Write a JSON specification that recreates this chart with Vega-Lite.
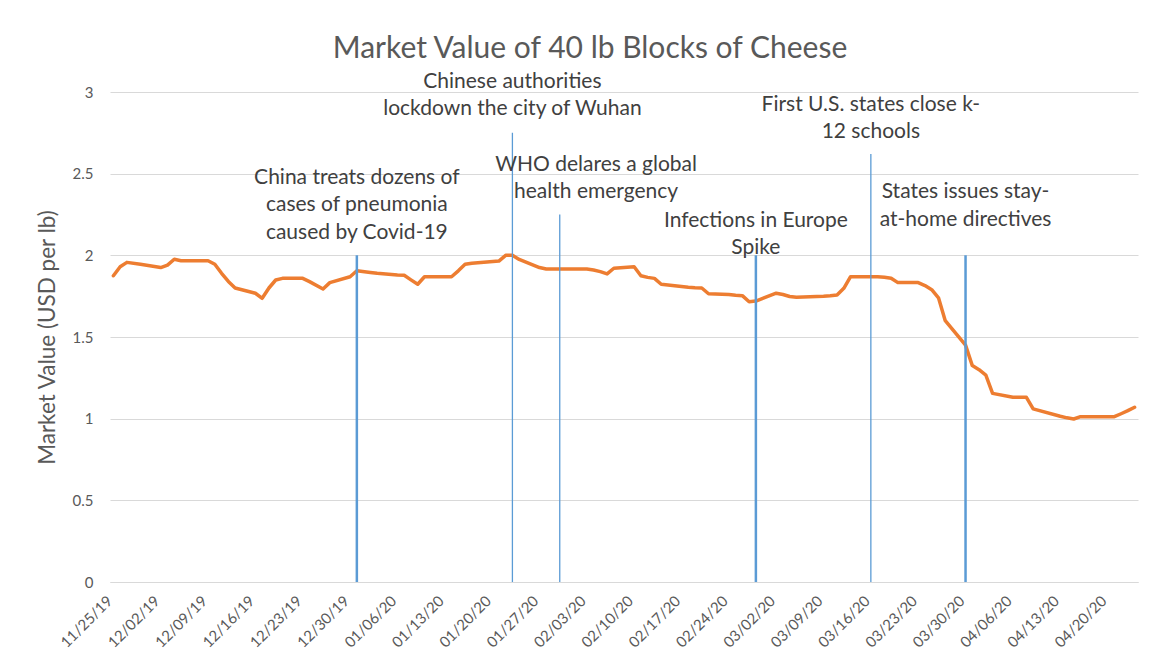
{
  "$schema": "https://vega.github.io/schema/vega-lite/v6.json",
  "width": 1028,
  "height": 490,
  "autosize": {"type": "none"},
  "padding": {"left": 110, "top": 92, "right": 26, "bottom": 89},
  "background": "white",
  "config": {"view": {"stroke": null}, "font": "Lato"},
  "title": {
    "text": "Market Value of 40 lb Blocks of Cheese",
    "font": "Lato",
    "fontSize": 30,
    "fontWeight": "normal",
    "color": "#595959",
    "anchor": "middle",
    "frame": "group",
    "dx": -34,
    "offset": 7
  },
  "layer": [
    {
      "data": {
        "values": [
          {"date": "2019-11-25", "price": 1.875},
          {"date": "2019-11-26", "price": 1.93},
          {"date": "2019-11-27", "price": 1.957},
          {"date": "2019-11-29", "price": 1.945},
          {"date": "2019-12-02", "price": 1.925},
          {"date": "2019-12-03", "price": 1.94},
          {"date": "2019-12-04", "price": 1.976},
          {"date": "2019-12-05", "price": 1.967},
          {"date": "2019-12-06", "price": 1.967},
          {"date": "2019-12-09", "price": 1.967},
          {"date": "2019-12-10", "price": 1.945},
          {"date": "2019-12-11", "price": 1.89},
          {"date": "2019-12-12", "price": 1.84},
          {"date": "2019-12-13", "price": 1.8},
          {"date": "2019-12-16", "price": 1.768},
          {"date": "2019-12-17", "price": 1.737},
          {"date": "2019-12-18", "price": 1.8},
          {"date": "2019-12-19", "price": 1.849},
          {"date": "2019-12-20", "price": 1.859},
          {"date": "2019-12-23", "price": 1.859},
          {"date": "2019-12-24", "price": 1.839},
          {"date": "2019-12-26", "price": 1.794},
          {"date": "2019-12-27", "price": 1.833},
          {"date": "2019-12-30", "price": 1.869},
          {"date": "2019-12-31", "price": 1.906},
          {"date": "2020-01-02", "price": 1.895},
          {"date": "2020-01-03", "price": 1.89},
          {"date": "2020-01-06", "price": 1.88},
          {"date": "2020-01-07", "price": 1.878},
          {"date": "2020-01-08", "price": 1.85},
          {"date": "2020-01-09", "price": 1.823},
          {"date": "2020-01-10", "price": 1.869},
          {"date": "2020-01-13", "price": 1.869},
          {"date": "2020-01-14", "price": 1.869},
          {"date": "2020-01-15", "price": 1.905},
          {"date": "2020-01-16", "price": 1.945},
          {"date": "2020-01-17", "price": 1.952},
          {"date": "2020-01-21", "price": 1.965},
          {"date": "2020-01-22", "price": 2.0},
          {"date": "2020-01-23", "price": 2.0},
          {"date": "2020-01-24", "price": 1.975},
          {"date": "2020-01-27", "price": 1.925},
          {"date": "2020-01-28", "price": 1.916},
          {"date": "2020-01-29", "price": 1.916},
          {"date": "2020-01-30", "price": 1.916},
          {"date": "2020-01-31", "price": 1.916},
          {"date": "2020-02-03", "price": 1.916},
          {"date": "2020-02-04", "price": 1.91},
          {"date": "2020-02-05", "price": 1.9},
          {"date": "2020-02-06", "price": 1.886},
          {"date": "2020-02-07", "price": 1.921},
          {"date": "2020-02-10", "price": 1.93},
          {"date": "2020-02-11", "price": 1.875},
          {"date": "2020-02-12", "price": 1.865},
          {"date": "2020-02-13", "price": 1.859},
          {"date": "2020-02-14", "price": 1.823},
          {"date": "2020-02-18", "price": 1.805},
          {"date": "2020-02-19", "price": 1.802},
          {"date": "2020-02-20", "price": 1.8},
          {"date": "2020-02-21", "price": 1.765},
          {"date": "2020-02-24", "price": 1.76},
          {"date": "2020-02-25", "price": 1.755},
          {"date": "2020-02-26", "price": 1.753},
          {"date": "2020-02-27", "price": 1.716},
          {"date": "2020-02-28", "price": 1.72},
          {"date": "2020-03-02", "price": 1.768},
          {"date": "2020-03-03", "price": 1.76},
          {"date": "2020-03-04", "price": 1.748},
          {"date": "2020-03-05", "price": 1.743},
          {"date": "2020-03-06", "price": 1.745},
          {"date": "2020-03-09", "price": 1.75},
          {"date": "2020-03-10", "price": 1.753},
          {"date": "2020-03-11", "price": 1.757},
          {"date": "2020-03-12", "price": 1.798},
          {"date": "2020-03-13", "price": 1.869},
          {"date": "2020-03-16", "price": 1.869},
          {"date": "2020-03-17", "price": 1.869},
          {"date": "2020-03-18", "price": 1.866},
          {"date": "2020-03-19", "price": 1.86},
          {"date": "2020-03-20", "price": 1.833},
          {"date": "2020-03-23", "price": 1.833},
          {"date": "2020-03-24", "price": 1.815},
          {"date": "2020-03-25", "price": 1.79},
          {"date": "2020-03-26", "price": 1.74},
          {"date": "2020-03-27", "price": 1.6},
          {"date": "2020-03-30", "price": 1.45},
          {"date": "2020-03-31", "price": 1.325},
          {"date": "2020-04-01", "price": 1.3},
          {"date": "2020-04-02", "price": 1.267},
          {"date": "2020-04-03", "price": 1.155},
          {"date": "2020-04-06", "price": 1.131},
          {"date": "2020-04-07", "price": 1.131},
          {"date": "2020-04-08", "price": 1.131},
          {"date": "2020-04-09", "price": 1.06},
          {"date": "2020-04-13", "price": 1.015},
          {"date": "2020-04-14", "price": 1.005},
          {"date": "2020-04-15", "price": 0.998},
          {"date": "2020-04-16", "price": 1.012},
          {"date": "2020-04-17", "price": 1.012},
          {"date": "2020-04-20", "price": 1.012},
          {"date": "2020-04-21", "price": 1.012},
          {"date": "2020-04-22", "price": 1.03},
          {"date": "2020-04-23", "price": 1.049},
          {"date": "2020-04-24", "price": 1.07}
        ]
      },
      "mark": {"type": "line", "color": "#ED7D31", "strokeWidth": 3.5, "strokeJoin": "round", "strokeCap": "round"},
      "encoding": {
        "x": {
          "field": "date",
          "type": "temporal",
          "title": null,
          "scale": {
            "type": "utc",
            "domain": [
              {"year": 2019, "month": 11, "date": 24, "hours": 12, "utc": true},
              {"year": 2020, "month": 4, "date": 24, "hours": 12, "utc": true}
            ]
          },
          "axis": {
            "values": [
              {"year": 2019, "month": 11, "date": 25, "utc": true},
              {"year": 2019, "month": 12, "date": 2, "utc": true},
              {"year": 2019, "month": 12, "date": 9, "utc": true},
              {"year": 2019, "month": 12, "date": 16, "utc": true},
              {"year": 2019, "month": 12, "date": 23, "utc": true},
              {"year": 2019, "month": 12, "date": 30, "utc": true},
              {"year": 2020, "month": 1, "date": 6, "utc": true},
              {"year": 2020, "month": 1, "date": 13, "utc": true},
              {"year": 2020, "month": 1, "date": 20, "utc": true},
              {"year": 2020, "month": 1, "date": 27, "utc": true},
              {"year": 2020, "month": 2, "date": 3, "utc": true},
              {"year": 2020, "month": 2, "date": 10, "utc": true},
              {"year": 2020, "month": 2, "date": 17, "utc": true},
              {"year": 2020, "month": 2, "date": 24, "utc": true},
              {"year": 2020, "month": 3, "date": 2, "utc": true},
              {"year": 2020, "month": 3, "date": 9, "utc": true},
              {"year": 2020, "month": 3, "date": 16, "utc": true},
              {"year": 2020, "month": 3, "date": 23, "utc": true},
              {"year": 2020, "month": 3, "date": 30, "utc": true},
              {"year": 2020, "month": 4, "date": 6, "utc": true},
              {"year": 2020, "month": 4, "date": 13, "utc": true},
              {"year": 2020, "month": 4, "date": 20, "utc": true}
            ],
            "format": "%m/%d/%y",
            "labelAngle": -45,
            "labelAlign": "right",
            "labelBaseline": "middle",
            "labelFont": "Lato",
            "labelFontSize": 15,
            "labelColor": "#595959",
            "labelPadding": 16,
            "labelOffset": -4,
            "labelOverlap": false,
            "labelFlush": false,
            "grid": false,
            "ticks": false,
            "domainColor": "#D9D9D9",
            "domainWidth": 1
          }
        },
        "y": {
          "field": "price",
          "type": "quantitative",
          "title": "Market Value (USD per lb)",
          "scale": {"domain": [0, 3], "nice": false, "zero": true},
          "axis": {
            "values": [0, 0.5, 1, 1.5, 2, 2.5, 3],
            "format": "~g",
            "grid": true,
            "gridColor": "#D9D9D9",
            "gridWidth": 1,
            "domain": false,
            "ticks": false,
            "labelPadding": 17,
            "labelFont": "Lato",
            "labelFontSize": 15,
            "labelColor": "#595959",
            "titleFont": "Lato",
            "titleFontSize": 22.5,
            "titleFontWeight": "normal",
            "titleColor": "#595959",
            "titlePadding": 13
          }
        }
      }
    },
    {
      "data": {
        "values": [
          {"date": "2019-12-31", "top": 2.0},
          {"date": "2020-02-28", "top": 2.0},
          {"date": "2020-03-30", "top": 2.0}
        ]
      },
      "mark": {"type": "rule", "color": "#5B9BD5", "strokeWidth": 2.5},
      "encoding": {
        "x": {"field": "date", "type": "temporal", "title": null},
        "y": {"field": "top", "type": "quantitative", "title": "Market Value (USD per lb)"},
        "y2": {"datum": 0}
      }
    },
    {
      "data": {
        "values": [
          {"date": "2020-01-23", "top": 2.75},
          {"date": "2020-01-30", "top": 2.25},
          {"date": "2020-03-16", "top": 2.62}
        ]
      },
      "mark": {"type": "rule", "color": "#5B9BD5", "strokeWidth": 1.3},
      "encoding": {
        "x": {"field": "date", "type": "temporal", "title": null},
        "y": {"field": "top", "type": "quantitative", "title": "Market Value (USD per lb)"},
        "y2": {"datum": 0}
      }
    },
    {
      "data": {
        "values": [
          {"date": "2019-12-31", "level": 2.474, "label": "China treats dozens of\ncases of pneumonia\ncaused by Covid-19"},
          {"date": "2020-01-23", "level": 3.064, "label": "Chinese authorities\nlockdown the city of Wuhan"},
          {"date": "2020-02-04T09:00:00Z", "level": 2.556, "label": "WHO delares a global\nhealth emergency"},
          {"date": "2020-02-28", "level": 2.213, "label": "Infections in Europe\nSpike"},
          {"date": "2020-03-16", "level": 2.923, "label": "First U.S. states close k-\n12 schools"},
          {"date": "2020-03-30", "level": 2.385, "label": "States issues stay-\nat-home directives"}
        ]
      },
      "mark": {
        "type": "text",
        "align": "center",
        "baseline": "middle",
        "lineBreak": "\n",
        "lineHeight": 27.5,
        "font": "Lato",
        "fontSize": 21,
        "color": "#404040"
      },
      "encoding": {
        "x": {"field": "date", "type": "temporal", "title": null},
        "y": {"field": "level", "type": "quantitative", "title": "Market Value (USD per lb)"},
        "text": {"field": "label"}
      }
    }
  ]
}
